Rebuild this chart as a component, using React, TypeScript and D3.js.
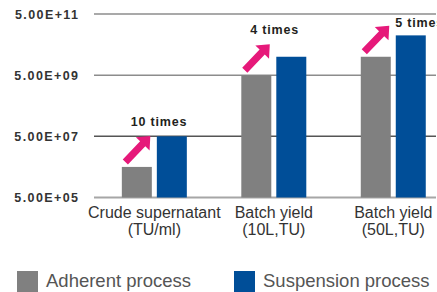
import React from "react";
import * as d3 from "d3";

const categories = ["Crude supernatant\n(TU/ml)", "Batch yield\n(10L,TU)", "Batch yield\n(50L,TU)"];
const seriesNames = ["Adherent process", "Suspension process"];
const adherent = [5e6, 5e9, 2e10];
const suspension = [5e7, 2e10, 1e11];
const annotations = ["10 times", "4 times", "5 times"];
const yTicks = [5e5, 5e7, 5e9, 5e11];
const yTickLabels = ["5.00E+05", "5.00E+07", "5.00E+09", "5.00E+11"];

const W = 437;
const H = 292;
const plotLeft = 94;
const plotRight = 436;
const colors = ["#808080", "#004e98"];
const pink = "#e6197a";

export default function App() {
  const y = d3.scaleLog().domain([5e5, 5e11]).range([197.5, 14]);
  const x0 = d3
    .scaleBand<string>()
    .domain(categories)
    .range([plotLeft, 453.6])
    .paddingInner(0.456)
    .paddingOuter(0.233);
  const x1 = d3
    .scaleBand<string>()
    .domain(seriesNames)
    .range([0, x0.bandwidth()])
    .paddingInner(0.143);
  const values = [adherent, suspension];

  const arrowPath = (tx: number, ty: number, hx: number, hy: number) => {
    const dx = hx - tx;
    const dy = hy - ty;
    const L = Math.sqrt(dx * dx + dy * dy);
    const ang = Math.atan2(dy, dx);
    const hw = 3.6;
    const hh = 9.5;
    const hl = 11;
    const pts: [number, number][] = [
      [0, -hw],
      [L - hl, -hw],
      [L - hl, -hh],
      [L, 0],
      [L - hl, hh],
      [L - hl, hw],
      [0, hw],
    ];
    const c = Math.cos(ang);
    const s = Math.sin(ang);
    return (
      "M" +
      pts
        .map(([px, py]) => `${(tx + px * c - py * s).toFixed(2)},${(ty + px * s + py * c).toFixed(2)}`)
        .join("L") +
      "Z"
    );
  };

  return (
    <svg
      width={W}
      height={H}
      style={{ position: "absolute", left: 0, top: 0, background: "#fff" }}
      fontFamily="'Liberation Sans', Arial, sans-serif"
    >
      {yTicks.map((t, i) => (
        <g key={t}>
          <line
            x1={plotLeft}
            x2={plotRight}
            y1={y(t)}
            y2={y(t)}
            stroke={i === 0 ? "#a6a6a6" : i === 1 ? "#555" : "#8c8c8c"}
            strokeWidth={i === 0 ? 2 : 1.5}
          />
          <text
            x={79.4}
            y={y(t)}
            dy="0.36em"
            textAnchor="end"
            fontSize={12.5}
            fontWeight="bold"
            letterSpacing={1.4}
            fill="#333"
          >
            {yTickLabels[i]}
          </text>
        </g>
      ))}

      {categories.map((cat, ci) => (
        <g key={cat} transform={`translate(${x0(cat)},0)`}>
          {seriesNames.map((sn, si) => (
            <rect
              key={sn}
              x={x1(sn)}
              y={y(values[si][ci])}
              width={x1.bandwidth()}
              height={y(5e5) - y(values[si][ci])}
              fill={colors[si]}
            />
          ))}
        </g>
      ))}

      {categories.map((cat, ci) => {
        const gx = (x0(cat) as number) + (x1(seriesNames[0]) as number);
        const gy = y(adherent[ci]);
        const tx = gx + 3.5;
        const ty = gy - 5;
        const hx = gx + 28.5;
        const hy = gy - 31;
        const defaultBase = hy - 10;
        const tooHigh = defaultBase - 10 < y(5e11) + 4;
        const lx = tooHigh ? hx + 6 : hx - 19.5;
        const ly = tooHigh ? hy + 1 : defaultBase;
        return (
          <g key={"ann" + ci}>
            <path d={arrowPath(tx, ty, hx, hy)} fill={pink} />
            <text x={lx} y={ly} fontSize={12.5} fontWeight="bold" letterSpacing={0.8} fill="#231f20">
              {annotations[ci]}
            </text>
          </g>
        );
      })}

      {categories.map((cat) => {
        const cx = (x0(cat) as number) + x0.bandwidth() / 2;
        const lines = cat.split("\n");
        return (
          <text key={"lab" + cat} textAnchor="middle" fontSize={16} fill="#333">
            {lines.map((ln, li) => (
              <tspan key={li} x={cx} y={218 + li * 17}>
                {ln}
              </tspan>
            ))}
          </text>
        );
      })}

      {seriesNames.map((sn, si) => {
        const lx = si === 0 ? 17 : 234;
        return (
          <g key={"leg" + sn}>
            <rect x={lx} y={271} width={21} height={21} fill={colors[si]} />
            <text x={lx + 29} y={287} fontSize={18.5} fill="#555">
              {sn}
            </text>
          </g>
        );
      })}
    </svg>
  );
}
